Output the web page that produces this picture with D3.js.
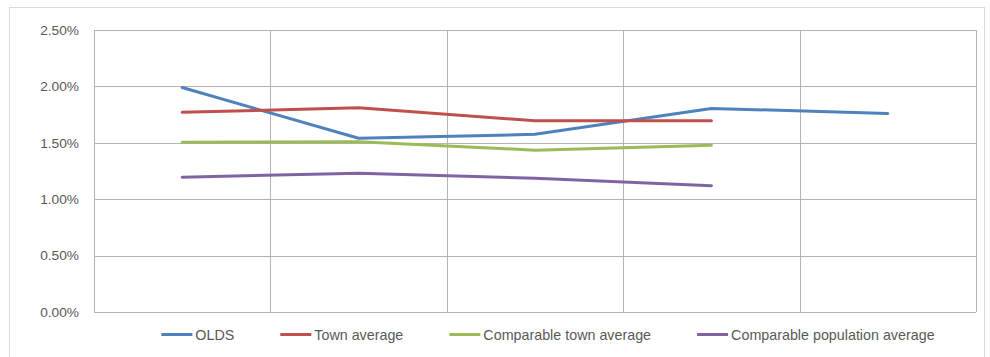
<!DOCTYPE html>
<html>
<head>
<meta charset="utf-8">
<script src="https://cdn.jsdelivr.net/npm/d3@7"></script>
<style>
  body { margin: 0; background: #fff; }
  text { font-family: "Liberation Sans", Arial, sans-serif; fill: #595959; }
</style>
</head>
<body>
<script>
// categories (no labels shown on the x axis in the original)
var periods = ["P1", "P2", "P3", "P4", "P5"];

// series values, in percent
var olds = [1.99, 1.54, 1.575, 1.805, 1.76];
var townAvg = [1.77, 1.81, 1.695, 1.695, null];
var compTownAvg = [1.505, 1.51, 1.435, 1.478, null];
var compPopAvg = [1.195, 1.23, 1.185, 1.12, null];

var seriesNames = ["OLDS", "Town average", "Comparable town average", "Comparable population average"];
var seriesColors = ["#4f81bd", "#c0504d", "#9bbb59", "#8064a2"];
var yTicks = [0, 0.5, 1, 1.5, 2, 2.5];

var width = 990, height = 357;
var margin = {top: 30, right: 14, bottom: 45, left: 94};

var svg = d3.select("body").append("svg")
  .attr("width", width)
  .attr("height", height);

// chart area border
svg.append("rect")
  .attr("x", 9.5).attr("y", 7.5)
  .attr("width", 975).attr("height", 360)
  .attr("fill", "none")
  .attr("stroke", "#d9d9d9");

var x = d3.scaleBand()
  .domain(periods)
  .range([margin.left, width - margin.right]);

var y = d3.scaleLinear()
  .domain([0, 2.5])
  .range([height - margin.bottom, margin.top]);

// horizontal gridlines
svg.append("g")
  .selectAll("line")
  .data(yTicks)
  .enter().append("line")
  .attr("x1", x.range()[0]).attr("x2", x.range()[1])
  .attr("y1", function(d) { return Math.round(y(d)) + 0.5; })
  .attr("y2", function(d) { return Math.round(y(d)) + 0.5; })
  .attr("stroke", "#b3b3b3");

// vertical gridlines at category boundaries
var bounds = periods.map(function(p) { return x(p); }).concat([x.range()[1]]);
svg.append("g")
  .selectAll("line")
  .data(bounds)
  .enter().append("line")
  .attr("x1", function(d) { return Math.round(d) + 0.5; })
  .attr("x2", function(d) { return Math.round(d) + 0.5; })
  .attr("y1", y(2.5)).attr("y2", y(0))
  .attr("stroke", "#b3b3b3");

// y axis labels
var yAxis = d3.axisLeft(y)
  .tickValues(yTicks)
  .tickSize(0)
  .tickPadding(15)
  .tickFormat(function(d) { return d3.format(".2f")(d) + "%"; });
svg.append("g")
  .attr("transform", "translate(" + margin.left + ",0)")
  .call(yAxis)
  .call(function(g) { g.select(".domain").remove(); })
  .selectAll("text")
  .style("font-size", "13.7px")
  .style("fill", "#595959")
  .style("font-family", "'Liberation Sans', Arial, sans-serif");

// lines
var allSeries = [olds, townAvg, compTownAvg, compPopAvg];
var line = d3.line()
  .defined(function(d) { return d != null; })
  .x(function(d, i) { return x(periods[i]) + x.bandwidth() / 2; })
  .y(function(d) { return y(d); });

svg.append("g")
  .selectAll("path")
  .data(allSeries)
  .enter().append("path")
  .attr("d", line)
  .attr("fill", "none")
  .attr("stroke", function(d, i) { return seriesColors[i]; })
  .attr("stroke-width", 3)
  .attr("stroke-linejoin", "round")
  .attr("stroke-linecap", "round");

// legend
var legendY = 334.5;
var legend = svg.append("g").attr("class", "legend");
var items = legend.selectAll("g")
  .data(seriesNames)
  .enter().append("g");
items.append("line")
  .attr("x1", 0).attr("x2", 31)
  .attr("y1", 0).attr("y2", 0)
  .attr("stroke", function(d, i) { return seriesColors[i]; })
  .attr("stroke-width", 3);
items.append("text")
  .attr("x", 34)
  .attr("dy", "0.36em")
  .style("font-size", "14.3px")
  .text(function(d) { return d; });

// lay out legend items in a row, a little right of the plot centre
var gap = 46, widths = [];
items.each(function() { widths.push(this.getBBox().width); });
var total = d3.sum(widths) + gap * (widths.length - 1);
var cx = (x.range()[0] + x.range()[1]) / 2 + 13 - total / 2;
items.attr("transform", function(d, i) {
  var pos = cx;
  cx += widths[i] + gap;
  return "translate(" + pos + "," + legendY + ")";
});
</script>
</body>
</html>
